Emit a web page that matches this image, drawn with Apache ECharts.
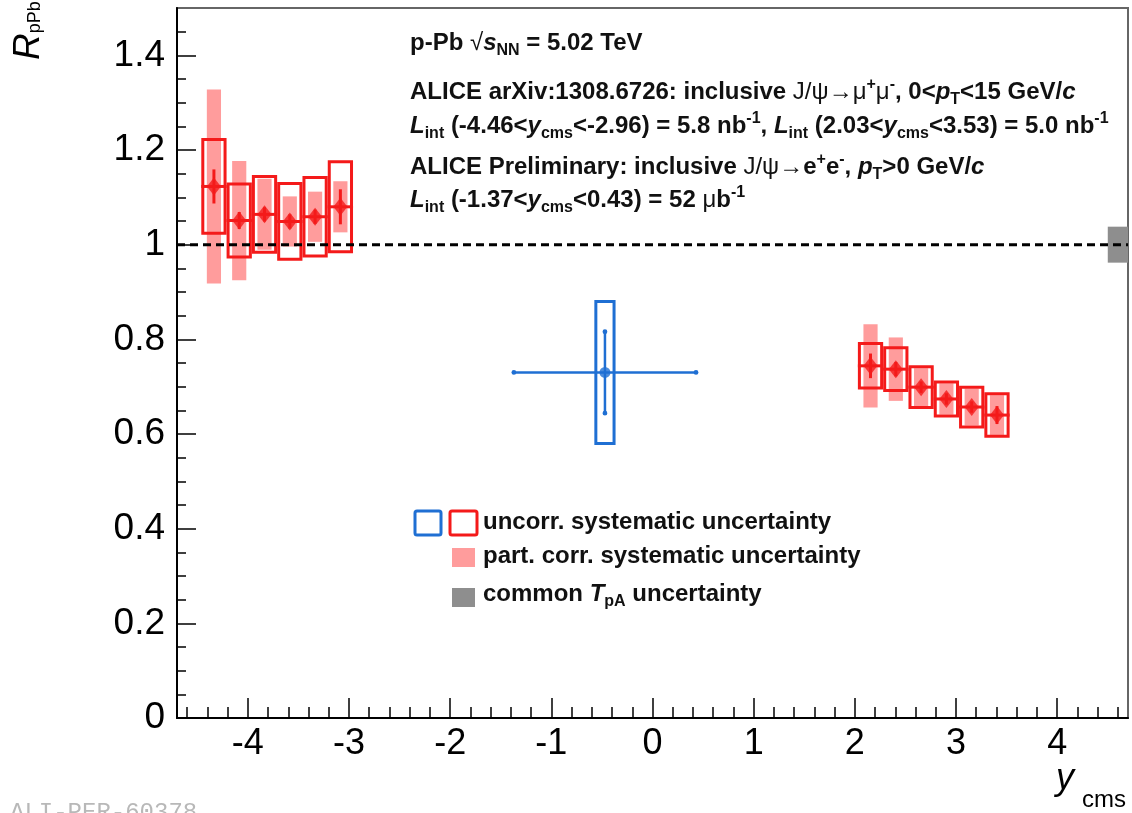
<!DOCTYPE html>
<html><head><meta charset="utf-8">
<script src="https://cdn.jsdelivr.net/npm/echarts@6/dist/echarts.min.js"></script>
<style>html,body{margin:0;padding:0;background:#fff}#c{width:1132px;height:813px}</style>
</head><body><div id="c"></div>
<script>
// ---------------- data ----------------
// backward rapidity, bins of 0.25 from -4.46 to -2.96
const bwdEdges   = [-4.46, -4.21, -3.96, -3.71, -3.46, -3.21, -2.96];
const bwdR       = [1.123, 1.051, 1.064, 1.049, 1.059, 1.080];
const bwdStat    = [0.036, 0.018, 0.015, 0.015, 0.015, 0.037];
const bwdUncorr  = [0.099, 0.077, 0.080, 0.080, 0.083, 0.095];
const bwdPartCor = [0.205, 0.126, 0.075, 0.053, 0.053, 0.054];
// forward rapidity, bins of 0.25 from 2.03 to 3.53
const fwdEdges   = [2.03, 2.28, 2.53, 2.78, 3.03, 3.28, 3.53];
const fwdR       = [0.744, 0.737, 0.699, 0.674, 0.657, 0.640];
const fwdStat    = [0.026, 0.015, 0.012, 0.012, 0.012, 0.019];
const fwdUncorr  = [0.047, 0.045, 0.043, 0.036, 0.042, 0.045];
const fwdPartCor = [0.088, 0.067, 0.040, 0.033, 0.039, 0.042];
// mid rapidity (dielectrons), -1.37 < y < 0.43
const midEdges   = [-1.37, 0.43];
const midX       = [-0.47];
const midR       = [0.73];
const midStat    = [0.086];
const midUncorr  = [0.15];
// common T_pA uncertainty around unity
const commonTpA  = 0.038;
// axis ticks
const xTicks = [-4, -3, -2, -1, 0, 1, 2, 3, 4];
const yTicks = [0, 0.2, 0.4, 0.6, 0.8, 1, 1.2, 1.4];

// ---------------- build ----------------
const RED = '#f41a1a', PINK = '#ff9c9c', BLUE = '#1f6fd3', GRAY = '#8e8e8e';
function rows(edges, R, stat, unc, pc, centers) {
  return R.map((r, i) => {
    const lo = edges[i], hi = edges[i + 1];
    const c = centers ? centers[i] : (lo + hi) / 2;
    return [c, r, stat[i], unc[i], pc ? pc[i] : 0, lo, hi];
  });
}
const redRows = rows(bwdEdges, bwdR, bwdStat, bwdUncorr, bwdPartCor)
  .concat(rows(fwdEdges, fwdR, fwdStat, fwdUncorr, fwdPartCor));
const blueRows = [[midX[0], midR[0], midStat[0], midUncorr[0], 0, midEdges[0], midEdges[1]]];

const xMinor = [];
for (let k = -23; k <= 23; k++) { if (k % 5 !== 0) xMinor.push(+(k * 0.2).toFixed(2)); }
const yMinor = [];
for (let k = 1; k <= 29; k++) { if (k % 4 !== 0) yMinor.push(+(k * 0.05).toFixed(2)); }

function rectItem(halfW, errDim, style) {
  return function (params, api) {
    const x = api.value(0), y = api.value(1), e = api.value(errDim);
    const a = api.coord([x - halfW, y + e]), b = api.coord([x + halfW, y - e]);
    return { type: 'rect', shape: { x: a[0], y: a[1], width: b[0] - a[0], height: b[1] - a[1] }, style: style };
  };
}
function errItem(color, width, caps) {
  return function (params, api) {
    const x = api.value(0), y = api.value(1), s = api.value(2);
    const h1 = api.coord([api.value(5), y]), h2 = api.coord([api.value(6), y]);
    const v1 = api.coord([x, y + s]), v2 = api.coord([x, y - s]);
    const st = { stroke: color, lineWidth: width };
    const ch = [
      { type: 'line', shape: { x1: h1[0], y1: h1[1], x2: h2[0], y2: h2[1] }, style: st },
      { type: 'line', shape: { x1: v1[0], y1: v1[1], x2: v2[0], y2: v2[1] }, style: st }
    ];
    if (caps) {
      [h1, h2, v1, v2].forEach(p => ch.push({ type: 'circle', shape: { cx: p[0], cy: p[1], r: 2.4 }, style: { fill: color } }));
    }
    return { type: 'group', children: ch };
  };
}
function commonItem(params, api) {
  const e = api.value(1);
  const a = api.coord([4.5, 1 + e]), b = api.coord([4.7, 1 - e]);
  return { type: 'rect', shape: { x: a[0], y: a[1], width: b[0] - a[0], height: b[1] - a[1] }, style: { fill: GRAY } };
}

const FONT = '"Liberation Sans", Arial, Helvetica, sans-serif';
const base = { fontFamily: FONT, fontSize: 24, fontWeight: 'bold', fill: '#111', lineHeight: 30 };
const rich = {
  n: Object.assign({}, base),
  i: Object.assign({}, base, { fontStyle: 'italic' }),
  g: Object.assign({}, base, { fontWeight: 'normal' }),
  sub: Object.assign({}, base, { fontSize: 16, lineHeight: 30, padding: [16, 0, 0, 0] }),
  sup: Object.assign({}, base, { fontSize: 16, lineHeight: 30, padding: [0, 0, 14, 0] })
};
function txt(x, y, s, extra) {
  return Object.assign({ type: 'text', x: x, y: y, silent: true,
    style: { text: s, rich: rich, fontFamily: FONT, fontSize: 24, fontWeight: 'bold', fill: '#111', align: 'left', verticalAlign: 'middle' } }, extra || {});
}

const chart = echarts.init(document.getElementById('c'), null, { renderer: 'canvas' });
chart.setOption({
  animation: false,
  backgroundColor: '#fff',
  grid: { left: 177, right: 4, top: 8, bottom: 95, show: true, borderColor: '#666', borderWidth: 2 },
  xAxis: [{
    type: 'value', min: -4.7, max: 4.7, position: 'bottom',
    axisLine: { show: true, onZero: false, lineStyle: { color: '#000', width: 2 } },
    axisTick: { show: true, inside: true, length: 20, customValues: xTicks, lineStyle: { color: '#000', width: 1.5 } },
    axisLabel: { customValues: xTicks, fontSize: 36, color: '#000', margin: 8, fontFamily: FONT },
    splitLine: { show: false }
  }, {
    type: 'value', min: -4.7, max: 4.7, position: 'bottom', offset: 0,
    axisLine: { show: false, onZero: false },
    axisTick: { show: true, inside: true, length: 11, customValues: xMinor, lineStyle: { color: '#000', width: 1.5 } },
    axisLabel: { show: false }, splitLine: { show: false }
  }],
  yAxis: [{
    type: 'value', min: 0, max: 1.5, position: 'left',
    axisLine: { show: true, onZero: false, lineStyle: { color: '#000', width: 2 } },
    axisTick: { show: true, inside: true, length: 19, customValues: yTicks, lineStyle: { color: '#000', width: 1.5 } },
    axisLabel: { customValues: yTicks, fontSize: 37, color: '#000', margin: 12, fontFamily: FONT },
    splitLine: { show: false }
  }, {
    type: 'value', min: 0, max: 1.5, position: 'left', offset: 0,
    axisLine: { show: false, onZero: false },
    axisTick: { show: true, inside: true, length: 9, customValues: yMinor, lineStyle: { color: '#000', width: 1.5 } },
    axisLabel: { show: false }, splitLine: { show: false }
  }],
  series: [
    { type: 'custom', name: 'partcorr', data: redRows, encode: { x: 0, y: 1 }, clip: false,
      renderItem: rectItem(0.07, 4, { fill: PINK }) },
    { type: 'line', name: 'unity', data: [[-4.7, 1], [4.7, 1]], showSymbol: false, silent: true,
      lineStyle: { color: '#000', width: 3, type: [8, 5] } },
    { type: 'custom', name: 'uncorr', data: redRows, encode: { x: 0, y: 1 }, clip: false,
      renderItem: rectItem(0.11, 3, { fill: 'none', stroke: RED, lineWidth: 3 }) },
    { type: 'custom', name: 'stat', data: redRows, encode: { x: 0, y: 1 }, clip: false,
      renderItem: errItem(RED, 3, false) },
    { type: 'scatter', name: 'R', data: redRows.map(r => [r[0], r[1]]), symbol: 'diamond', symbolSize: [14, 18],
      itemStyle: { color: RED }, silent: true },
    { type: 'custom', name: 'uncorrMid', data: blueRows, encode: { x: 0, y: 1 }, clip: false,
      renderItem: rectItem(0.09, 3, { fill: 'none', stroke: BLUE, lineWidth: 3 }) },
    { type: 'custom', name: 'statMid', data: blueRows, encode: { x: 0, y: 1 }, clip: false,
      renderItem: errItem(BLUE, 2.5, true) },
    { type: 'scatter', name: 'Rmid', data: blueRows.map(r => [r[0], r[1]]), symbol: 'circle', symbolSize: 11,
      itemStyle: { color: BLUE }, silent: true },
    { type: 'custom', name: 'common', data: [[1, commonTpA]], encode: { x: 0, y: 1 }, clip: false,
      renderItem: commonItem }
  ],
  graphic: [
    txt(410, 43, '{n|p-Pb }{g|√}{i|s}{sub|NN}{n| = 5.02 TeV}'),
    txt(410, 92, '{n|ALICE arXiv:1308.6726: inclusive }{g|J/ψ→μ}{sup|+}{g|μ}{sup|-}{n|, 0<}{i|p}{sub|T}{n|<15 GeV/}{i|c}'),
    txt(410, 126, '{i|L}{sub|int}{n| (-4.46<}{i|y}{sub|cms}{n|<-2.96) = 5.8 nb}{sup|-1}{n|, }{i|L}{sub|int}{n| (2.03<}{i|y}{sub|cms}{n|<3.53) = 5.0 nb}{sup|-1}'),
    txt(410, 167, '{n|ALICE Preliminary: inclusive }{g|J/ψ→}{n|e}{sup|+}{n|e}{sup|-}{n|, }{i|p}{sub|T}{n|>0 GeV/}{i|c}'),
    txt(410, 200, '{i|L}{sub|int}{n| (-1.37<}{i|y}{sub|cms}{n|<0.43) = 52 }{g|μ}{n|b}{sup|-1}'),
    // legend
    { type: 'rect', silent: true, shape: { x: 415, y: 511, width: 26, height: 24, r: 2 }, style: { fill: 'none', stroke: BLUE, lineWidth: 3 } },
    { type: 'rect', silent: true, shape: { x: 450, y: 511, width: 27, height: 24, r: 2 }, style: { fill: 'none', stroke: RED, lineWidth: 3 } },
    { type: 'rect', silent: true, shape: { x: 452, y: 548, width: 23, height: 19 }, style: { fill: PINK } },
    { type: 'rect', silent: true, shape: { x: 452, y: 588, width: 23, height: 19 }, style: { fill: GRAY } },
    txt(483, 522, '{n|uncorr. systematic uncertainty}'),
    txt(483, 556, '{n|part. corr. systematic uncertainty}'),
    txt(483, 594, '{n|common }{i|T}{sub|pA}{n| uncertainty}'),
    // axis titles
    { type: 'text', silent: true, x: 29, y: 60, rotation: Math.PI / 2,
      style: { text: '{R|R}{s|pPb}', align: 'left', verticalAlign: 'middle', fill: '#000',
        rich: { R: { fontFamily: FONT, fontSize: 37, fontStyle: 'italic', fill: '#000', lineHeight: 40 },
                s: { fontFamily: FONT, fontSize: 18, fill: '#000', lineHeight: 40, padding: [12, 0, 0, 0] } } } },
    { type: 'text', silent: true, x: 1056, y: 779,
      style: { text: 'y', fontFamily: FONT, fontSize: 36, fontStyle: 'italic', fill: '#000', align: 'left', verticalAlign: 'middle' } },
    { type: 'text', silent: true, x: 1082, y: 800,
      style: { text: 'cms', fontFamily: FONT, fontSize: 24, fill: '#000', align: 'left', verticalAlign: 'middle' } },
    { type: 'text', silent: true, x: 10, y: 801,
      style: { text: 'ALI-PER-60378', fontFamily: '"Liberation Mono", monospace', fontSize: 24, fill: '#b8b8b8', align: 'left', verticalAlign: 'top' } }
  ]
});
</script>
</body></html>
